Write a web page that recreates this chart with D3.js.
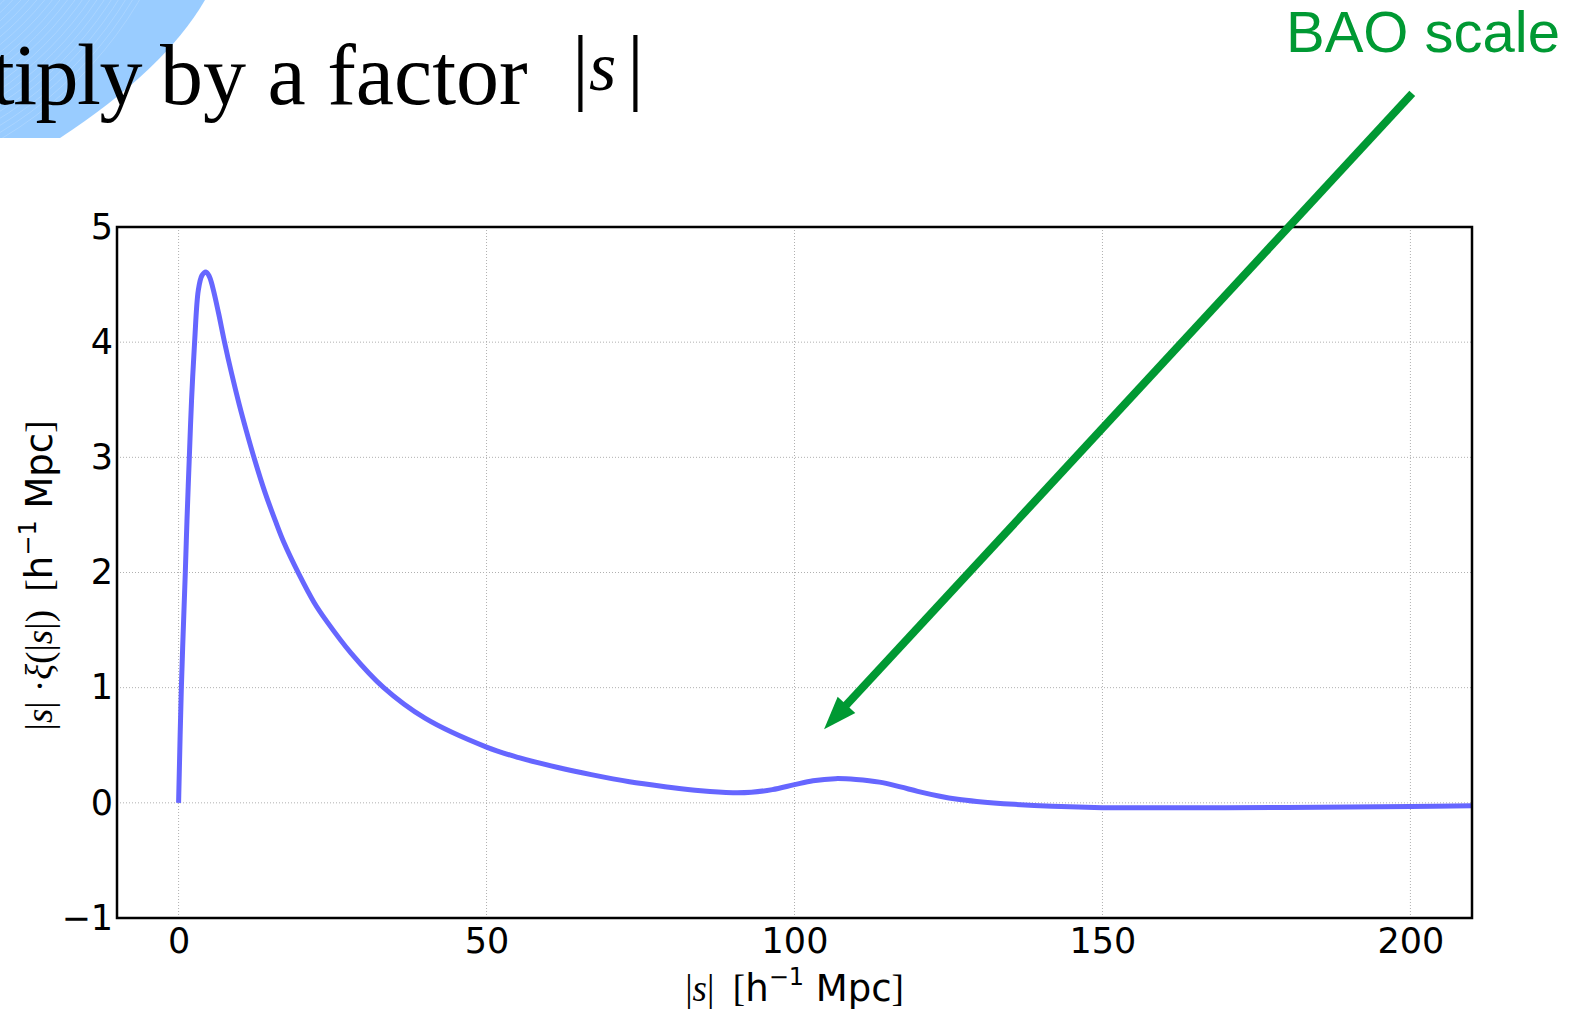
<!DOCTYPE html>
<html>
<head>
<meta charset="utf-8">
<script src="https://cdn.jsdelivr.net/npm/d3@7"></script>
<style>
  body { margin: 0; background: #fff; }
  svg { display: block; }
  .tick text { font-family: "DejaVu Sans", sans-serif; font-size: 35px; fill: #000; }
  .grid line { stroke: #b0b0b0; stroke-width: 1; stroke-dasharray: 1,2; }
</style>
</head>
<body>
<div id="chart"></div>
<script>
// data: s [h^-1 Mpc] and |s|*xi(|s|)
const sValues = [0, 0.45, 1.09, 1.36, 1.74, 2.1, 2.6, 3.2, 3.8, 4.43, 5.0, 5.57, 6.5, 7.46, 8.6, 9.84,
  11, 12.4, 14, 15.7, 17.1, 19.5, 22, 24, 28, 33.3, 40, 50, 55.4, 61.6, 67, 73.2, 79, 84.8, 90, 93,
  96.4, 100, 103, 106.6, 110, 113.8, 117.2, 120, 123.4, 126.5, 129.6, 135.7, 141.9, 150, 160, 170, 185, 200, 210];
const sxiValues = [0, 1.0, 2.0, 2.45, 3.0, 3.49, 4.0, 4.45, 4.58, 4.61, 4.57, 4.47, 4.25, 4.0, 3.73, 3.46,
  3.23, 2.97, 2.70, 2.45, 2.26, 1.99, 1.74, 1.58, 1.30, 1.0, 0.735, 0.484, 0.39, 0.307, 0.245, 0.183, 0.14, 0.104, 0.088, 0.092,
  0.115, 0.158, 0.192, 0.21, 0.203, 0.18, 0.138, 0.1, 0.06, 0.031, 0.012, -0.013, -0.03, -0.042, -0.043, -0.042, -0.038, -0.032, -0.026];
const xTicks = [0, 50, 100, 150, 200];
const yTicks = [-1, 0, 1, 2, 3, 4, 5];
const xDomain = [-10, 210];
const yDomain = [-1, 5];
// annotation arrow, in data coordinates
const arrowFrom = [200.3, 6.16];
const arrowTo = [104.8, 0.64];

const W = 1572, H = 1015;
const margin = {top: 227, right: 100, bottom: 97, left: 117};
const width = W - margin.left - margin.right;
const height = H - margin.top - margin.bottom;

const svg = d3.select("#chart")
    .append("svg")
    .attr("width", W)
    .attr("height", H);

svg.append("rect").attr("width", W).attr("height", H).attr("fill", "#fff");

// slide decoration, top-left
const deco = svg.append("g");
const decoPath = "M0,0 L205,0 Q165,69 60,138 L0,138 Z";
svg.append("clipPath").attr("id", "decoClip").append("path").attr("d", decoPath);
deco.append("path").attr("d", decoPath).attr("fill", "#99ccff");
const arcs = deco.append("g").attr("clip-path", "url(#decoClip)");
for (let r = 250; r < 400; r += 6) {
  arcs.append("circle")
      .attr("cx", -200).attr("cy", -200).attr("r", r)
      .attr("fill", "none").attr("stroke", "#fff")
      .attr("stroke-opacity", 0.25).attr("stroke-width", 0.7);
}

// slide title
const title = svg.append("text")
    .attr("y", 104)
    .attr("font-family", "'Liberation Serif', serif")
    .attr("font-size", 86)
    .attr("fill", "#000");
title.append("tspan").attr("x", 141).attr("text-anchor", "end")
    .attr("letter-spacing", -1.5).text("tiply");
title.append("tspan").attr("x", 160).attr("text-anchor", "start").text("by a factor");
const mathT = svg.append("text")
    .attr("y", 94)
    .attr("font-family", "'Liberation Serif', serif")
    .attr("font-size", 84)
    .attr("fill", "#000");
mathT.append("tspan").attr("x", 572).text("|");
mathT.append("tspan").attr("x", 589).attr("y", 90).attr("font-style", "italic").attr("font-size", 70).text("s");
mathT.append("tspan").attr("x", 627).attr("y", 94).text("|");

const g = svg.append("g")
    .attr("transform", `translate(${margin.left},${margin.top})`);

const x = d3.scaleLinear().domain(xDomain).range([0, width]);
const y = d3.scaleLinear().domain(yDomain).range([height, 0]);

// grid
g.append("g").attr("class", "grid")
  .selectAll("line").data(xTicks).join("line")
    .attr("x1", d => x(d)).attr("x2", d => x(d))
    .attr("y1", 0).attr("y2", height);
g.append("g").attr("class", "grid")
  .selectAll("line").data(yTicks).join("line")
    .attr("x1", 0).attr("x2", width)
    .attr("y1", d => y(d)).attr("y2", d => y(d));

// axes (labels only, no tick marks)
const xAxis = g.append("g")
    .attr("transform", `translate(0,${height})`)
    .call(d3.axisBottom(x).tickValues(xTicks).tickSize(0).tickPadding(10).tickFormat(d3.format("d")));
xAxis.select(".domain").remove();

const yAxis = g.append("g")
    .call(d3.axisLeft(y).tickValues(yTicks).tickSize(0).tickPadding(4).tickFormat(d3.format("d")));
yAxis.select(".domain").remove();

// curve
const data = sValues.map((s, i) => ({s: s, v: sxiValues[i]}));
const line = d3.line()
    .x(d => x(d.s))
    .y(d => y(d.v))
    .curve(d3.curveCatmullRom.alpha(0.5));

g.append("path")
    .datum(data)
    .attr("fill", "none")
    .attr("stroke", "#6666ff")
    .attr("stroke-width", 5)
    .attr("stroke-linejoin", "round")
    .attr("d", line);

// frame
g.append("rect")
    .attr("width", width).attr("height", height)
    .attr("fill", "none").attr("stroke", "#000").attr("stroke-width", 2.5);

// axis titles
const serif = "'Liberation Serif', serif";
const xl = svg.append("text")
    .attr("x", margin.left + x(100)).attr("y", 1001)
    .attr("text-anchor", "middle")
    .attr("font-family", "'DejaVu Sans', sans-serif")
    .attr("font-size", 37).attr("fill", "#000")
    .attr("xml:space", "preserve");
xl.append("tspan").attr("font-family", serif).text("|");
xl.append("tspan").attr("font-family", serif).attr("font-style", "italic").text("s");
xl.append("tspan").attr("font-family", serif).text("|  [");
xl.append("tspan").text("h");
xl.append("tspan").attr("font-size", 24).attr("dy", -16).text("−1");
xl.append("tspan").attr("dy", 16).text(" Mpc");
xl.append("tspan").attr("font-family", serif).text("]");

const yl = svg.append("text")
    .attr("transform", `translate(52,${margin.top + y(2) + 3}) rotate(-90)`)
    .attr("text-anchor", "middle")
    .attr("font-family", "'DejaVu Sans', sans-serif")
    .attr("font-size", 37).attr("fill", "#000")
    .attr("xml:space", "preserve");
yl.append("tspan").attr("font-family", serif).text("|");
yl.append("tspan").attr("font-family", serif).attr("font-style", "italic").text("s");
yl.append("tspan").attr("font-family", serif).text("| ·");
yl.append("tspan").attr("font-family", serif).attr("font-style", "italic").text("ξ");
yl.append("tspan").attr("font-family", serif).text("(|");
yl.append("tspan").attr("font-family", serif).attr("font-style", "italic").text("s");
yl.append("tspan").attr("font-family", serif).text("|)  [");
yl.append("tspan").text("h");
yl.append("tspan").attr("font-size", 24).attr("dy", -16).text("−1");
yl.append("tspan").attr("dy", 16).text(" Mpc");
yl.append("tspan").attr("font-family", serif).text("]");

// BAO annotation
const green = "#009933";
const p0 = [margin.left + x(arrowFrom[0]), margin.top + y(arrowFrom[1])];
const p1 = [margin.left + x(arrowTo[0]), margin.top + y(arrowTo[1])];
const dx = p1[0] - p0[0], dy = p1[1] - p0[1];
const len = Math.hypot(dx, dy);
const ux = dx / len, uy = dy / len;
const headLen = 33, headHalf = 12;
const base = [p1[0] - ux * headLen, p1[1] - uy * headLen];
svg.append("line")
    .attr("x1", p0[0]).attr("y1", p0[1])
    .attr("x2", base[0] + ux * 4).attr("y2", base[1] + uy * 4)
    .attr("stroke", green).attr("stroke-width", 8);
svg.append("path")
    .attr("d", `M${p1[0]},${p1[1]} L${base[0] - uy * headHalf},${base[1] + ux * headHalf} L${base[0] + uy * headHalf},${base[1] - ux * headHalf} Z`)
    .attr("fill", green);

svg.append("text")
    .attr("x", 1286).attr("y", 52)
    .attr("font-family", "'Liberation Sans', Arial, sans-serif")
    .attr("font-size", 58)
    .attr("fill", green)
    .text("BAO scale");
</script>
</body>
</html>
